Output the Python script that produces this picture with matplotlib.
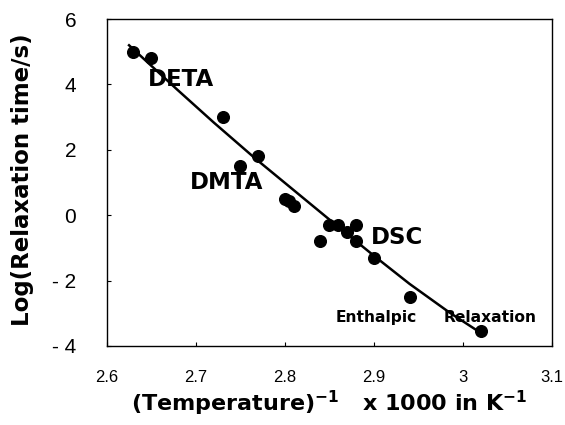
import numpy as np
import matplotlib
matplotlib.use("Agg")
import matplotlib.pyplot as plt

plt.rcParams['font.family'] = ['Liberation Sans', 'DejaVu Sans']
plt.rcParams['mathtext.fontset'] = 'dejavusans'

# measured points: 1000/T (K^-1) and log(relaxation time / s)
inv_T = [2.63, 2.65, 2.73, 2.75, 2.77, 2.80, 2.805, 2.81, 2.84, 2.85, 2.86,
         2.87, 2.88, 2.88, 2.90, 2.94, 3.02]
log_tau = [5.0, 4.8, 3.0, 1.5, 1.8, 0.5, 0.42, 0.27, -0.8, -0.3, -0.3,
           -0.5, -0.3, -0.78, -1.3, -2.5, -3.55]

# fitted curve
fit_x = [2.625, 2.678, 2.72, 2.767, 2.849, 2.90, 2.94, 2.985, 3.02]
fit_y = [5.2, 3.87, 2.84, 1.73, -0.11, -1.24, -2.1, -2.98, -3.6]

xticks = [2.6, 2.7, 2.8, 2.9, 3.0, 3.1]
xticklabels = ['2.6', '2.7', '2.8', '2.9', '3', '3.1']
yticks = [-4, -2, 0, 2, 4, 6]
yticklabels = ['- 4', '- 2', '0', '2', '4', '6']

# technique labels (x, y, text, size)
notes = [(2.646, 4.16, 'DETA', 16.5),
         (2.693, 1.01, 'DMTA', 16.5),
         (2.897, -0.68, 'DSC', 16.5),
         (2.857, -3.12, 'Enthalpic', 11.2),
         (2.978, -3.12, 'Relaxation', 11.2)]

bold = ['DejaVu Sans']

fig = plt.figure(figsize=(5.65, 4.25), dpi=100)
ax = fig.add_axes([0.189, 0.186, 0.788, 0.769])

ax.plot(fit_x, fit_y, color='black', lw=1.8, zorder=2)
ax.plot(inv_T, log_tau, 'o', color='black', ms=8.4, zorder=3)

for x, y, s, fs in notes:
    ax.text(x, y, s, ha='left', va='center', fontsize=fs, fontweight='bold',
            family=bold)

ax.set_xlim(2.6, 3.1)
ax.set_ylim(-4, 6)
ax.set_xticks(xticks)
ax.set_xticklabels(xticklabels)
ax.set_yticks(yticks)
ax.set_yticklabels(yticklabels)
ax.tick_params(axis='x', direction='in', length=3, pad=17, labelsize=12)
ax.tick_params(axis='y', direction='in', length=3, pad=22, labelsize=15)
for sp in ax.spines.values():
    sp.set_linewidth(1.0)

ax.set_xlabel(r'(Temperature)$^{\mathbf{-1}}$   x 1000 in K$^{\mathbf{-1}}$',
              fontsize=16, fontweight='bold', family=bold)
ax.set_ylabel('Log(Relaxation time/s)', fontsize=16.5, fontweight='bold',
              family=bold)
ax.xaxis.set_label_coords(0.5, -0.13)
ax.yaxis.set_label_coords(-0.163, 0.51)

fig.savefig('out.png', dpi=100)
